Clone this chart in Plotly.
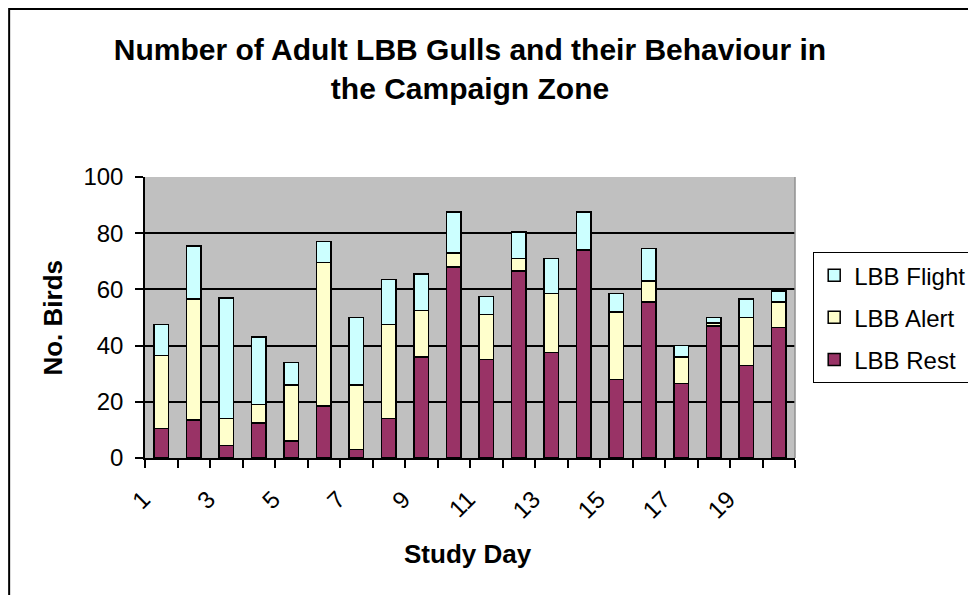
import plotly.graph_objects as go

# Study days and counts per behaviour
days = list(range(1, 21))
lbb_rest = [10.5, 13.5, 4.5, 12.5, 6, 18.5, 3, 14, 36, 68,
            35, 66.5, 37.5, 74, 28, 55.5, 26.5, 47, 33, 46.5]
lbb_alert = [26, 43, 9.5, 6.5, 20, 51, 23, 33.5, 16.5, 5,
             16, 4.5, 21, 0, 24, 7.5, 9.5, 1, 17, 9]
lbb_flight = [11, 19, 43, 24, 8, 7.5, 24, 16, 13, 14.5,
              6.5, 9.5, 12.5, 13.5, 6.5, 11.5, 4, 2, 6.5, 4]

FONT = "Arial, Liberation Sans, sans-serif"

# name, values, colour, legend position
series = [
    ("LBB Rest", lbb_rest, "#993366", 3),
    ("LBB Alert", lbb_alert, "#FFFFCC", 2),
    ("LBB Flight", lbb_flight, "#CCFFFF", 1),
]

fig = go.Figure()
for name, vals, color, rank in series:
    fig.add_trace(go.Bar(
        x=days, y=vals, name=name, legendgroup=name, legendrank=rank,
        marker=dict(color=color, line=dict(color="black", width=1.5)),
    ))

# the page body adds an 8px offset, so margins are shifted by that
fig.update_layout(
    width=976, height=595,
    margin=dict(l=137, r=189, t=169, b=145, autoexpand=False),
    barmode="stack", bargap=0.54,
    paper_bgcolor="white", plot_bgcolor="#C0C0C0",
    font=dict(family=FONT, size=24, color="black"),
    title=dict(
        text="<b>Number of Adult LBB Gulls and their Behaviour in<br>the Campaign Zone</b>",
        font=dict(size=30), x=0.5, xref="paper",
        y=0.913, yref="container", xanchor="center", yanchor="middle",
    ),
    legend=dict(
        x=1.028, y=0.733, xanchor="left", yanchor="top",
        bgcolor="white", bordercolor="black", borderwidth=1,
        font=dict(size=24), traceorder="grouped", tracegroupgap=8,
    ),
    showlegend=True,
)

# labels on odd days, shifted left like the slanted labels of the original
odd_days = days[::2]
fig.update_xaxes(
    range=[0.5, 20.5], tickmode="array",
    tickvals=odd_days, ticktext=[str(d) for d in odd_days],
    tickangle=-45, ticklabelshift=-18,
    ticks="outside", ticklen=16, tickcolor="rgba(0,0,0,0)",
    minor=dict(tickmode="linear", tick0=0.5, dtick=1, ticks="outside",
               ticklen=8, tickcolor="black", tickwidth=1.5),
    showline=True, linecolor="black", linewidth=1.5, showgrid=False,
    zeroline=False,
)
fig.update_yaxes(
    range=[0, 100], dtick=20, ticks="outside", ticklen=8, tickcolor="black",
    tickwidth=1.5, ticklabelstandoff=7, showline=True, linecolor="black",
    linewidth=1.5, showgrid=True, gridcolor="black", gridwidth=1.5,
    zeroline=False,
)

# axis titles
fig.add_annotation(text="<b>No. Birds</b>", xref="paper", yref="paper",
                   x=-0.143, y=0.5, textangle=-90, showarrow=False,
                   font=dict(size=26), xanchor="center", yanchor="middle")
fig.add_annotation(text="<b>Study Day</b>", xref="paper", yref="paper",
                   x=0.497, y=-0.342, showarrow=False,
                   font=dict(size=26), xanchor="center", yanchor="middle")

# right edge of plot area and chart frame
fig.add_shape(type="line", xref="paper", yref="paper", x0=1, x1=1, y0=0, y1=1,
              line=dict(color="#909090", width=1.5))
fig.add_shape(type="rect", xref="paper", yref="paper",
              x0=-0.209, x1=1.6, y0=-1.0, y1=1.598,
              line=dict(color="black", width=2), layer="below")

fig.write_html("out.html")
